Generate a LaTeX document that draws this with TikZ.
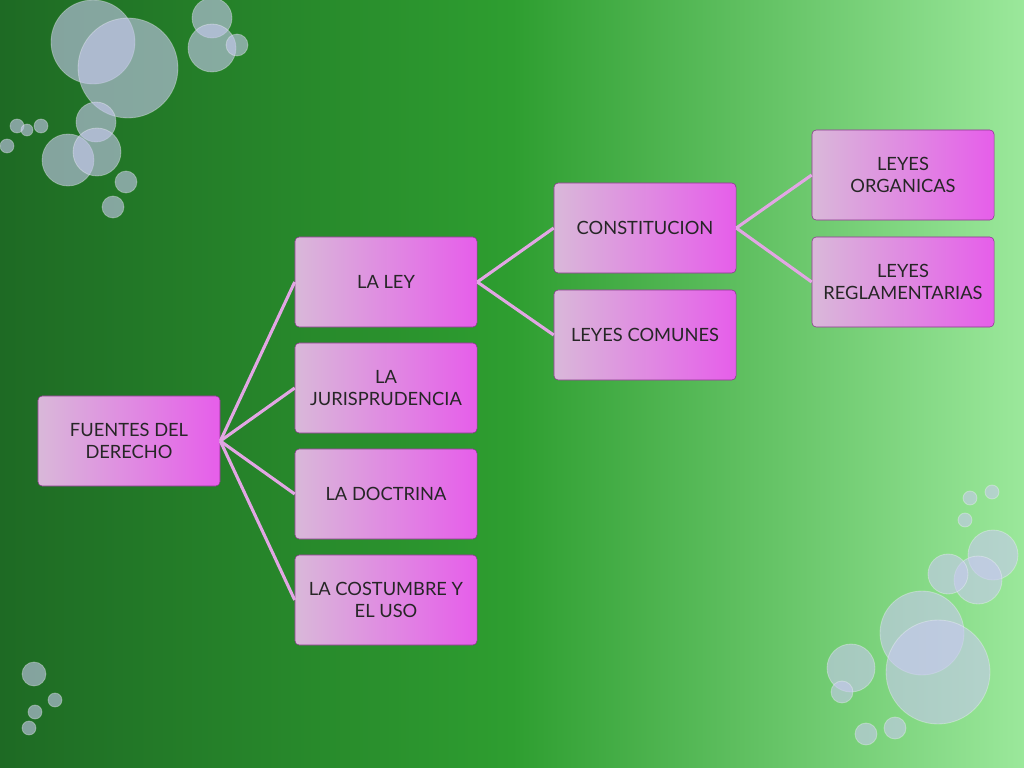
\documentclass[tikz,border=0pt]{standalone}
\usepackage{fontspec}
\setmainfont{Lato}
\usetikzlibrary{positioning, calc}
\definecolor{dgreen}{HTML}{1E6A24}
\definecolor{mgreen}{HTML}{2E9E30}
\definecolor{lgreen}{HTML}{9BE89B}
\definecolor{boxleft}{HTML}{D9B8D9}
\definecolor{boxright}{HTML}{E65EEA}
\definecolor{linkc}{HTML}{E2A6E4}
\definecolor{bubblec}{HTML}{C8C8F0}
\tikzset{topic node/.style={rectangle, rounded corners=3pt, draw=boxright!60!black, line width=0.4pt,
    left color=boxleft, right color=boxright, minimum width=4.55cm, minimum height=2.25cm,
    align=center, font=\fontsize{13}{16}\selectfont, text=black!85},
  link/.style={draw=linkc, line width=2.2pt},
  bubble/.style={fill=bubblec, fill opacity=0.6, draw=white, draw opacity=0.3, line width=0.6pt}}
\begin{document}
\begin{tikzpicture}[x=0.025cm, y=-0.025cm]
			% Background
			\shade[left color=dgreen, right color=lgreen, middle color=mgreen] (0,0) rectangle (1024,768);
			\useasboundingbox (0,0) rectangle (1024,768);

			% Bubbles
			\foreach \bx/\by/\br in {93/42/42, 128/68/50, 212/18/20, 212/48/24, 237/45/11, 96/122/20, 68/160/26,
				97/152/24, 126/182/11, 113/207/11, 17/126/7, 41/126/7, 27/130/6, 7/146/7,
				993/555/25, 978/580/24, 948/574/20, 970/498/7, 992/492/7, 965/520/7,
				922/633/42, 938/672/52, 851/668/24, 842/692/11, 866/734/11, 895/728/11,
				34/674/12, 55/700/7, 35/712/7, 29/728/7}
				\path[bubble] (\bx,\by) circle[radius=\br*0.025cm];

			% Boxes
			\node[topic node] (fuentes) at (129,441) {FUENTES DEL\\DERECHO};
			\node[topic node] (ley) at (386,282) {LA LEY};
			\node[topic node] (juris) at (386,388) {LA\\JURISPRUDENCIA};
			\node[topic node] (doctrina) at (386,494) {LA DOCTRINA};
			\node[topic node] (costumbre) at (386,600) {LA COSTUMBRE Y\\EL USO};
			\node[topic node] (const) at (645,228) {CONSTITUCION};
			\node[topic node] (comunes) at (645,335) {LEYES COMUNES};
			\node[topic node] (organicas) at (903,175) {LEYES\\ORGANICAS};
			\node[topic node] (reglam) at (903,282) {LEYES\\REGLAMENTARIAS};

			% Links
			\foreach \a/\b in {fuentes/ley, fuentes/juris, fuentes/doctrina, fuentes/costumbre,
				ley/const, ley/comunes, const/organicas, const/reglam}
				\path[link] (\a.east) -- (\b.west);
		\end{tikzpicture}
\end{document}
